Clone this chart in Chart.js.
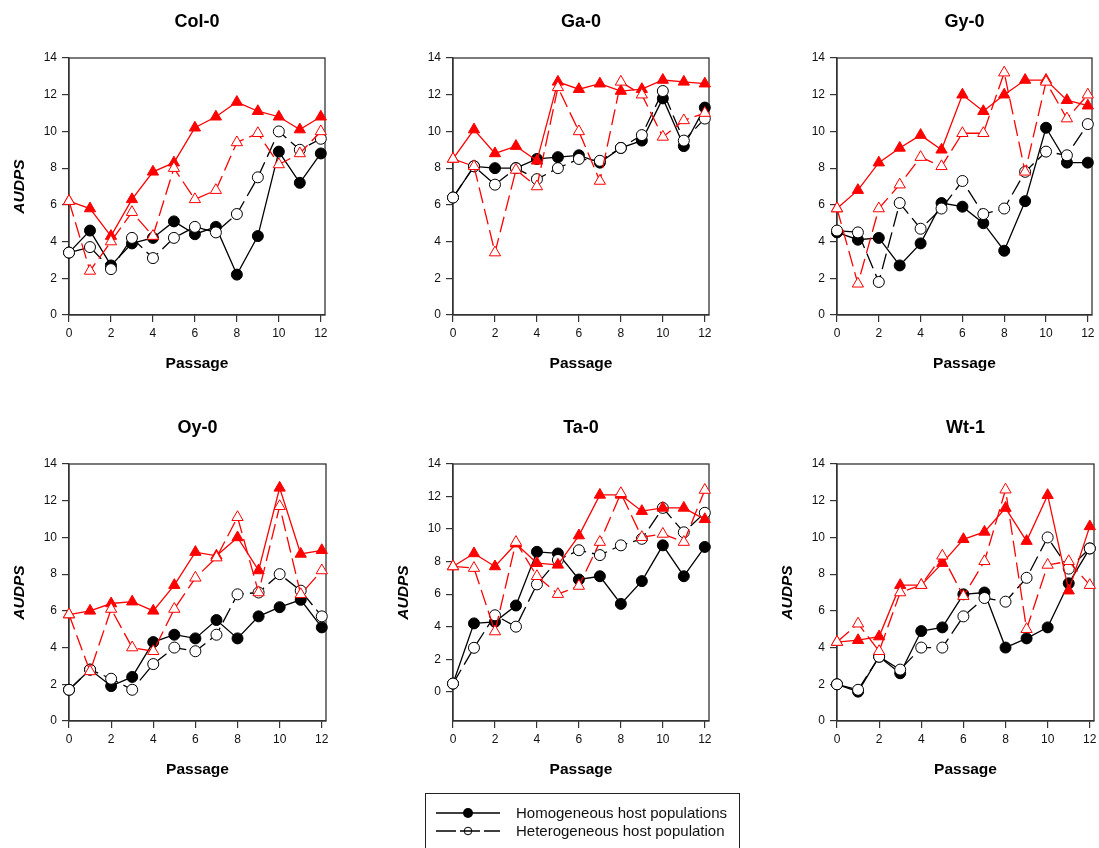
<!DOCTYPE html>
<html>
<head>
<meta charset="utf-8">
<script src="https://cdn.jsdelivr.net/npm/chart.js@4.4.1/dist/chart.umd.min.js"></script>
<style>
  body { margin: 0; width: 1099px; height: 848px; overflow: hidden; background: #fff; position: relative; font-family: "Liberation Sans", Arial, sans-serif; }
  .panel { position: absolute; }
  #legend { position: absolute; left: 425px; top: 793px; width: 315px; height: 80px; border: 1px solid #222; box-sizing: border-box; }
  .row { position: absolute; left: 0; height: 18px; font-size: 15px; color: #111; }
  .row svg { position: absolute; left: 10px; top: 2px; }
  .row span { position: absolute; left: 90px; top: 0; white-space: nowrap; line-height: 18px; }
</style>
</head>
<body>
<div id="panels"></div>
<div id="legend">
  <div class="row" style="top: 10px">
    <svg width="64" height="14"><line x1="0" y1="7" x2="64" y2="7" stroke="#000" stroke-width="1.3"/><circle cx="32" cy="7" r="5" fill="#000"/></svg>
    <span>Homogeneous host populations</span>
  </div>
  <div class="row" style="top: 28px">
    <svg width="64" height="14"><line x1="0" y1="7" x2="64" y2="7" stroke="#000" stroke-width="1.3" stroke-dasharray="20 4"/><circle cx="32" cy="7" r="3.8" fill="none" stroke="#000" stroke-width="1"/></svg>
    <span>Heterogeneous host population</span>
  </div>
</div>
<script>
const passages = [0, 1, 2, 3, 4, 5, 6, 7, 8, 9, 10, 11, 12];
const xTicks = [0, 2, 4, 6, 8, 10, 12];
const yTicks = [0, 2, 4, 6, 8, 10, 12, 14];

// black = homogeneous / heterogeneous, red = same pair in red
const col0Hom  = [3.4, 4.6, 2.7, 3.9, 4.2, 5.1, 4.4, 4.8, 2.2, 4.3, 8.9, 7.2, 8.8];
const col0Het  = [3.4, 3.7, 2.5, 4.2, 3.1, 4.2, 4.8, 4.5, 5.5, 7.5, 10.0, 9.0, 9.6];
const col0HomR = [6.2, 5.8, 4.3, 6.3, 7.8, 8.3, 10.2, 10.8, 11.6, 11.1, 10.8, 10.1, 10.8];
const col0HetR = [6.2, 2.4, 4.0, 5.6, 4.3, 8.0, 6.3, 6.8, 9.4, 9.9, 8.2, 8.8, 10.0];

const ga0Hom  = [6.4, 8.1, 8.0, 8.0, 8.5, 8.6, 8.7, 8.3, 9.1, 9.5, 11.8, 9.2, 11.3];
const ga0Het  = [6.4, 8.1, 7.1, 8.0, 7.4, 8.0, 8.5, 8.4, 9.1, 9.8, 12.2, 9.5, 10.7];
const ga0HomR = [8.5, 10.1, 8.8, 9.2, 8.4, 12.7, 12.3, 12.6, 12.2, 12.3, 12.8, 12.7, 12.6];
const ga0HetR = [8.5, 8.1, 3.4, 7.9, 7.0, 12.4, 10.0, 7.3, 12.7, 12.0, 9.7, 10.6, 11.0];

const gy0Hom  = [4.5, 4.1, 4.2, 2.7, 3.9, 6.1, 5.9, 5.0, 3.5, 6.2, 10.2, 8.3, 8.3];
const gy0Het  = [4.6, 4.5, 1.8, 6.1, 4.7, 5.8, 7.3, 5.5, 5.8, 7.8, 8.9, 8.7, 10.4];
const gy0HomR = [5.8, 6.8, 8.3, 9.1, 9.8, 9.0, 12.0, 11.1, 12.0, 12.8, 12.8, 11.7, 11.4];
const gy0HetR = [5.8, 1.7, 5.8, 7.1, 8.6, 8.1, 9.9, 9.9, 13.2, 7.8, 12.7, 10.7, 12.0];

const oy0Hom  = [1.7, 2.8, 1.9, 2.4, 4.3, 4.7, 4.5, 5.5, 4.5, 5.7, 6.2, 6.6, 5.1];
const oy0Het  = [1.7, 2.8, 2.3, 1.7, 3.1, 4.0, 3.8, 4.7, 6.9, 7.0, 8.0, 7.1, 5.7];
const oy0HomR = [5.8, 6.0, 6.4, 6.5, 6.0, 7.4, 9.2, 9.0, 10.0, 8.2, 12.7, 9.1, 9.3];
const oy0HetR = [5.8, 2.7, 6.1, 4.0, 3.8, 6.1, 7.8, 8.9, 11.1, 7.0, 11.7, 6.9, 8.2];

const ta0Hom  = [0.5, 4.2, 4.3, 5.3, 8.6, 8.5, 6.9, 7.1, 5.4, 6.8, 9.0, 7.1, 8.9];
const ta0Het  = [0.5, 2.7, 4.7, 4.0, 6.6, 8.1, 8.7, 8.4, 9.0, 9.4, 11.3, 9.8, 11.0];
const ta0HomR = [7.7, 8.5, 7.7, 9.1, 7.9, 7.8, 9.6, 12.1, 12.1, 11.1, 11.3, 11.3, 10.6];
const ta0HetR = [7.7, 7.6, 3.7, 9.2, 7.1, 6.0, 6.5, 9.2, 12.2, 9.5, 9.7, 9.2, 12.4];

const wt1Hom  = [2.0, 1.6, 3.5, 2.6, 4.9, 5.1, 6.9, 7.0, 4.0, 4.5, 5.1, 7.5, 9.4];
const wt1Het  = [2.0, 1.7, 3.5, 2.8, 4.0, 4.0, 5.7, 6.7, 6.5, 7.8, 10.0, 8.3, 9.4];
const wt1HomR = [4.3, 4.4, 4.6, 7.4, 7.4, 8.6, 9.9, 10.3, 11.6, 9.8, 12.3, 7.1, 10.6];
const wt1HetR = [4.3, 5.3, 3.8, 7.0, 7.4, 9.0, 6.8, 8.7, 12.6, 5.0, 8.5, 8.7, 7.4];

Chart.defaults.font.family = '"Liberation Sans", Arial, sans-serif';
Chart.defaults.color = '#111';

const AXIS_W = 69, TOP_PAD = 58, X_AXIS_H = 75, RIGHT_PAD = 12;

const framePlugin = {
    id: 'frame',
    beforeDatasetsDraw(chart) {
        const a = chart.chartArea;
        const ctx = chart.ctx;
        ctx.save();
        ctx.strokeStyle = '#333';
        ctx.lineWidth = 1.3;
        ctx.strokeRect(a.left, a.top, a.right - a.left, a.bottom - a.top);
        ctx.restore();
    }
};

const titlePlugin = {
    id: 'panelTitle',
    afterDraw(chart, args, opts) {
        const a = chart.chartArea;
        const ctx = chart.ctx;
        ctx.save();
        ctx.font = 'bold 18px "Liberation Sans", Arial, sans-serif';
        ctx.fillStyle = '#000';
        ctx.textAlign = 'center';
        ctx.textBaseline = 'middle';
        ctx.fillText(opts.text, (a.left + a.right) / 2, 22);
        ctx.restore();
    }
};

function series(data, color, filled, dashed, style) {
    return {
        data: passages.map((p, i) => ({x: p, y: data[i]})),
        borderColor: color,
        backgroundColor: filled ? color : '#fff',
        borderWidth: 1.3,
        borderDash: dashed ? [16, 6] : [],
        pointStyle: style,
        pointRadius: style === 'circle' ? 5.5 : 6.5,
        pointBorderWidth: 1,
        pointBorderColor: color,
        pointBackgroundColor: filled ? color : '#fff',
        tension: 0,
        clip: false
    };
}

function makePanel(p) {
    const div = document.createElement('div');
    div.className = 'panel';
    const w = p.r - p.l + AXIS_W + RIGHT_PAD;
    const h = p.b - p.t + TOP_PAD + X_AXIS_H;
    div.style.left = (p.l - AXIS_W) + 'px';
    div.style.top = (p.t - TOP_PAD) + 'px';
    const canvas = document.createElement('canvas');
    canvas.width = w;
    canvas.height = h;
    div.appendChild(canvas);
    document.getElementById('panels').appendChild(div);

    new Chart(canvas.getContext('2d'), {
        type: 'line',
        data: {
            datasets: [
                Object.assign(series(p.hetR, '#ff0000', false, true, 'triangle'), {order: 1}),
                Object.assign(series(p.homR, '#ff0000', true, false, 'triangle'), {order: 2}),
                Object.assign(series(p.het, '#000', false, true, 'circle'), {order: 3}),
                Object.assign(series(p.hom, '#000', true, false, 'circle'), {order: 4})
            ]
        },
        options: {
            responsive: false,
            animation: false,
            layout: { padding: { left: 0, top: TOP_PAD, right: RIGHT_PAD, bottom: 0 } },
            plugins: {
                legend: { display: false },
                tooltip: { enabled: false },
                panelTitle: { text: p.name }
            },
            scales: {
                x: {
                    type: 'linear',
                    min: 0,
                    max: 12.2,
                    afterBuildTicks: s => { s.ticks = xTicks.map(v => ({value: v})); },
                    afterFit: s => { s.height = X_AXIS_H; },
                    grid: { drawOnChartArea: false, drawTicks: true, tickLength: 7, color: '#333', lineWidth: 1.2 },
                    border: { display: true, color: '#333', width: 1.3 },
                    ticks: { font: { size: 12 }, padding: 4, color: '#111', maxRotation: 0 },
                    title: { display: true, text: 'Passage', font: { size: 15.5, weight: 'bold' }, color: '#000', padding: { top: 0, bottom: 17 } }
                },
                y: {
                    min: p.ymin,
                    max: 14,
                    afterBuildTicks: s => { s.ticks = yTicks.map(v => ({value: v})); },
                    afterFit: s => { s.width = AXIS_W; },
                    grid: { drawOnChartArea: false, drawTicks: true, tickLength: 7, color: '#333', lineWidth: 1.2 },
                    border: { display: true, color: '#333', width: 1.3 },
                    ticks: { font: { size: 12 }, padding: 5, color: '#111' },
                    title: { display: p.yTitle, text: 'AUDPS', font: { size: 15.5, weight: 'bold', style: 'italic' }, color: '#000', padding: { top: 10, bottom: 0 } }
                }
            }
        },
        plugins: [framePlugin, titlePlugin]
    });
}

const panels = [
    { name: 'Col-0', l: 69,  t: 58,  r: 325,  b: 315, ymin: 0,    yTitle: true,  hom: col0Hom, het: col0Het, homR: col0HomR, hetR: col0HetR },
    { name: 'Ga-0',  l: 453, t: 58,  r: 709,  b: 315, ymin: 0,    yTitle: false, hom: ga0Hom,  het: ga0Het,  homR: ga0HomR,  hetR: ga0HetR },
    { name: 'Gy-0',  l: 837, t: 58,  r: 1092, b: 315, ymin: 0,    yTitle: false, hom: gy0Hom,  het: gy0Het,  homR: gy0HomR,  hetR: gy0HetR },
    { name: 'Oy-0',  l: 69,  t: 464, r: 326,  b: 721, ymin: 0,    yTitle: true,  hom: oy0Hom,  het: oy0Het,  homR: oy0HomR,  hetR: oy0HetR },
    { name: 'Ta-0',  l: 453, t: 464, r: 709,  b: 721, ymin: -1.8, yTitle: true,  hom: ta0Hom,  het: ta0Het,  homR: ta0HomR,  hetR: ta0HetR },
    { name: 'Wt-1',  l: 837, t: 464, r: 1094, b: 721, ymin: 0,    yTitle: true,  hom: wt1Hom,  het: wt1Het,  homR: wt1HomR,  hetR: wt1HetR }
];

panels.forEach(makePanel);
</script>
</body>
</html>
